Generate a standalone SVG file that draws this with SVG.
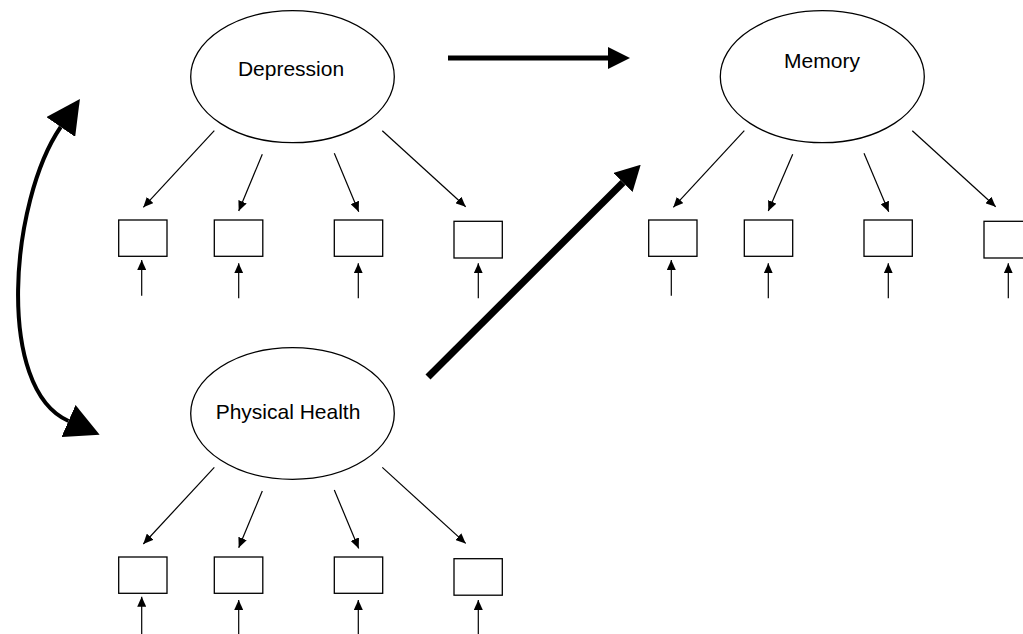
<svg xmlns="http://www.w3.org/2000/svg" width="1023" height="634" viewBox="0 0 1023 634">
<style>
.lat{fill:#fff;stroke:#000;stroke-width:1.3}
.box{fill:#fff;stroke:#000;stroke-width:1.3}
.lbl{font-family:"Liberation Sans",Arial,sans-serif;font-size:21px;fill:#000;text-anchor:middle}
.thin{stroke:#000;stroke-width:1.2;fill:none;marker-end:url(#sm)}
</style>
<defs>
<marker id="sm" markerUnits="userSpaceOnUse" viewBox="0 0 10 9" markerWidth="10" markerHeight="9" refX="10" refY="4.5" orient="auto"><path d="M0,0 L10,4.5 L0,9 z" fill="#000"/></marker>
<marker id="hz" markerUnits="userSpaceOnUse" viewBox="0 0 22 22" markerWidth="22" markerHeight="22" refX="0" refY="11" orient="auto"><path d="M0,0 L22,11 L0,22 z" fill="#000"/></marker>
<marker id="dg" markerUnits="userSpaceOnUse" viewBox="0 0 25 27" markerWidth="25" markerHeight="27" refX="0" refY="13.5" orient="auto"><path d="M0,0 L25,13.5 L0,27 z" fill="#000"/></marker>
<marker id="cv" markerUnits="userSpaceOnUse" viewBox="0 0 34 35" markerWidth="34" markerHeight="35" refX="0" refY="17.5" orient="auto-start-reverse"><path d="M0,0 L34,17.5 L0,35 z" fill="#000"/></marker>
</defs>

<g id="depression">
<ellipse class="lat" cx="292.5" cy="76.7" rx="101.8" ry="66"/>
<text class="lbl" x="291" y="76">Depression</text>
</g>
<g id="memory">
<ellipse class="lat" cx="822.3" cy="76.7" rx="102" ry="66"/>
<text class="lbl" x="822" y="68">Memory</text>
</g>
<g id="physical-health">
<ellipse class="lat" cx="292.5" cy="413.5" rx="101.8" ry="65.8"/>
<text class="lbl" x="288" y="419">Physical Health</text>
</g>

<g id="dep-indicators">
<rect class="box" x="118.7" y="220" width="48.3" height="36.3"/>
<rect class="box" x="214.3" y="220" width="48.5" height="36.3"/>
<rect class="box" x="334.3" y="220" width="48.4" height="36.3"/>
<rect class="box" x="454" y="221.3" width="48.3" height="36.7"/>
</g>
<g id="mem-indicators">
<rect class="box" x="648.7" y="220" width="48.3" height="36.3"/>
<rect class="box" x="744.3" y="220" width="48.4" height="36.3"/>
<rect class="box" x="864" y="220" width="48.3" height="36.3"/>
<rect class="box" x="984" y="221.3" width="48.3" height="36.7"/>
</g>
<g id="ph-indicators">
<rect class="box" x="118.7" y="557" width="48.3" height="36.3"/>
<rect class="box" x="214.3" y="557" width="48.5" height="36.3"/>
<rect class="box" x="334.3" y="557" width="48.4" height="36.3"/>
<rect class="box" x="454" y="558.7" width="48.3" height="36.5"/>
</g>

<g id="connectors">
<!-- loadings -->
<line class="thin" x1="214.3" y1="130.7" x2="143.3" y2="207.3"/>
<line class="thin" x1="262.3" y1="154.3" x2="238.7" y2="211"/>
<line class="thin" x1="334.3" y1="153.3" x2="358.7" y2="211.7"/>
<line class="thin" x1="382.3" y1="130.7" x2="465.7" y2="206.7"/>
<line class="thin" x1="744.3" y1="130.7" x2="673.3" y2="207.3"/>
<line class="thin" x1="792.7" y1="154.3" x2="768.3" y2="211"/>
<line class="thin" x1="864" y1="153.3" x2="888.7" y2="211.7"/>
<line class="thin" x1="912.3" y1="130.7" x2="995.7" y2="206.7"/>
<line class="thin" x1="214.3" y1="467.4" x2="143.3" y2="544"/>
<line class="thin" x1="262.3" y1="491" x2="238.7" y2="547.7"/>
<line class="thin" x1="334.3" y1="490" x2="358.7" y2="548.4"/>
<line class="thin" x1="382.3" y1="467.4" x2="465.7" y2="543.4"/>
<!-- error arrows -->
<line class="thin" x1="141.7" y1="295.7" x2="141.7" y2="260"/>
<line class="thin" x1="238.7" y1="298.3" x2="238.7" y2="263.3"/>
<line class="thin" x1="358.3" y1="298.3" x2="358.3" y2="263.3"/>
<line class="thin" x1="478.3" y1="298.3" x2="478.3" y2="263.3"/>
<line class="thin" x1="671.3" y1="295.7" x2="671.3" y2="260"/>
<line class="thin" x1="768.3" y1="298.3" x2="768.3" y2="263.3"/>
<line class="thin" x1="888.3" y1="298.3" x2="888.3" y2="263.3"/>
<line class="thin" x1="1008.3" y1="298.3" x2="1008.3" y2="263.3"/>
<line class="thin" x1="141.7" y1="634" x2="141.7" y2="596.7"/>
<line class="thin" x1="238.7" y1="634" x2="238.7" y2="600"/>
<line class="thin" x1="358.3" y1="634" x2="358.3" y2="600"/>
<line class="thin" x1="478.3" y1="634" x2="478.3" y2="600"/>
<!-- structural paths -->
<line x1="448" y1="58" x2="608" y2="58" stroke="#000" stroke-width="5" marker-end="url(#hz)"/>
<line x1="428" y1="377" x2="623" y2="182.5" stroke="#000" stroke-width="7" marker-end="url(#dg)"/>
<path d="M60.7,127 C10,201 -4.8,388.9 68.5,421" fill="none" stroke="#000" stroke-width="4" marker-start="url(#cv)" marker-end="url(#cv)"/>
</g>
</svg>
